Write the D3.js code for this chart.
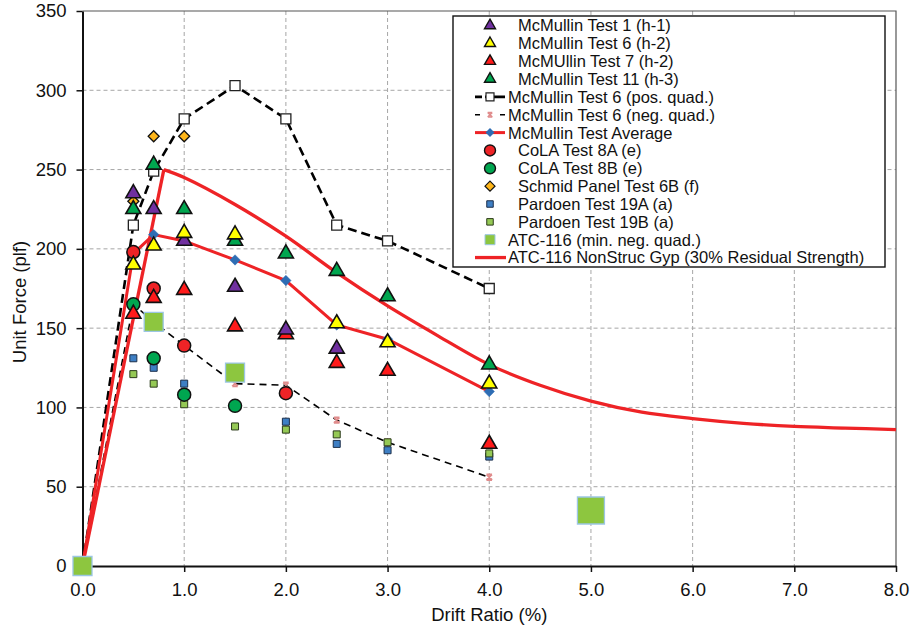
<!DOCTYPE html>
<html><head><meta charset="utf-8">
<script src="https://cdn.jsdelivr.net/npm/d3@7"></script>
<style>
html,body{margin:0;padding:0;background:#fff;}
svg{display:block;font-family:"Liberation Sans",Arial,sans-serif;}
</style></head>
<body>
<svg id="c" width="917" height="628"></svg>
<script>
// ---------- data ----------
const xTicks = [0,1,2,3,4,5,6,7,8];
const yTicks = [0,50,100,150,200,250,300,350];

const mcm1X = [0.5,0.7,1.0,1.5,2.0,2.5];
const mcm1Y = [235,225,205,176,149,137];
const mcm6X = [0.5,0.7,1.0,1.5,2.5,3.0,4.0];
const mcm6Y = [190,202,210,209,153,141,115];
const mcm7X = [0.5,0.7,1.0,1.5,2.0,2.5,3.0,4.0];
const mcm7Y = [159,169,174,151,146,128,123,77];
const mcm11X = [0.5,0.7,1.0,1.5,2.0,2.5,3.0,4.0];
const mcm11Y = [225,253,225,205,197,186,170,127];

const posX = [0,0.5,0.7,1.0,1.5,2.0,2.5,3.0,4.0];
const posY = [0,215,249,282,303,282,215,205,175];
const negX = [0,0.5,0.7,1.0,1.5,2.0,2.5,3.0,4.0];
const negY = [0,165,154,139,115,114,92,78,56];
const avgX = [0,0.5,0.7,1.0,1.5,2.0,2.5,3.0,4.0];
const avgY = [0,197,209,205,193,180,152,143,110];

const colaAX = [0.5,0.7,1.0,2.0];
const colaAY = [198,175,139,109];
const colaBX = [0.5,0.7,1.0,1.5];
const colaBY = [165,131,108,101];
const schmidX = [0.5,0.7,1.0];
const schmidY = [230,271,271];
const p19aX = [0.5,0.7,1.0,1.5,2.0,2.5,3.0,4.0];
const p19aY = [131,125,115,101,91,77,73,69];
const p19bX = [0.5,0.7,1.0,1.5,2.0,2.5,3.0,4.0];
const p19bY = [121,115,102,88,86,83,78,71];
const atcMinX = [0,0.7,1.5,5.0];
const atcMinY = [0,154,122,35];
const atcX = [0,0.8,1.0,1.5,2.0,2.5,3.0,3.5,4.0,4.5,5.0,5.5,6.0,6.5,7.0,7.5,8.0];
const atcY = [0,250,245,228,208,185,164,145,127,114,104,97,93,90,88,87,86];

const legendLabels = [
  "McMullin Test 1 (h-1)","McMullin Test 6 (h-2)","McMUllin Test 7 (h-2)","McMullin Test 11 (h-3)",
  "McMullin Test 6 (pos. quad.)","McMullin Test 6 (neg. quad.)","McMullin Test Average",
  "CoLA Test 8A (e)","CoLA Test 8B (e)","Schmid Panel Test 6B (f)",
  "Pardoen Test 19A (a)","Pardoen Test 19B (a)","ATC-116 (min. neg. quad.)",
  "ATC-116 NonStruc Gyp (30% Residual Strength)"
];
const xTitle = "Drift Ratio (%)";
const yTitle = "Unit Force (plf)";

// ---------- helpers ----------
const zip = (xs, ys) => xs.map((x,i)=>({x, y: ys[i]}));
const svg = d3.select("#c");
const L = 82.5, R = 896, T = 11, B = 566;
const x = d3.scaleLinear().domain([0,8]).range([L,R]);
const y = d3.scaleLinear().domain([0,350]).range([B,T]);

const RED = "#EE2326";

// grid
const g = svg.append("g");
g.selectAll(".hg").data(yTicks.filter(v=>v>0 && v<350)).join("line")
  .attr("x1",L).attr("x2",R).attr("y1",d=>y(d)).attr("y2",d=>y(d))
  .attr("stroke","#a6a6a6").attr("stroke-width",1).attr("stroke-dasharray","4,3");
g.selectAll(".vg").data(xTicks.filter(v=>v>0 && v<8)).join("line")
  .attr("y1",T).attr("y2",B).attr("x1",d=>x(d)).attr("x2",d=>x(d))
  .attr("stroke","#a6a6a6").attr("stroke-width",1).attr("stroke-dasharray","4,3");

// frame top/right
svg.append("path").attr("d",`M${L},${T}H${R}V${B}`).attr("fill","none")
  .attr("stroke","#555").attr("stroke-width",1.2);

// axes
const fontAxis = 18.5;
const xAxis = svg.append("g").attr("transform",`translate(0,${B})`)
  .call(d3.axisBottom(x).tickValues(xTicks).tickFormat(d3.format(".1f")).tickSize(6).tickSizeOuter(0).tickPadding(11));
const yAxis = svg.append("g").attr("transform",`translate(${L},0)`)
  .call(d3.axisLeft(y).tickValues(yTicks).tickFormat(d3.format("d")).tickSize(6).tickSizeOuter(0).tickPadding(10));
[xAxis,yAxis].forEach(a=>{
  a.select(".domain").attr("stroke","#111").attr("stroke-width",2);
  a.selectAll(".tick line").attr("stroke","#111").attr("stroke-width",1.5);
  a.selectAll("text").attr("font-size",fontAxis).attr("fill","#111")
    .attr("font-family","'Liberation Sans',Arial,sans-serif");
});
svg.append("text").attr("x",(L+R)/2).attr("y",621).attr("text-anchor","middle")
  .attr("font-size",fontAxis).attr("fill","#111").text(xTitle);
svg.append("text").attr("transform",`translate(26,302) rotate(-90)`).attr("text-anchor","middle")
  .attr("font-size",fontAxis).attr("fill","#111").text(yTitle);

// ---------- marker shapes ----------
function triPath(s){ const h=s*Math.sqrt(3)/2; return `M0,${-h*2/3}L${s/2},${h/3}L${-s/2},${h/3}Z`; }
function diaPath(r){ return `M0,${-r}L${r},0L0,${r}L${-r},0Z`; }
function sqPath(s){ return `M${-s/2},${-s/2}h${s}v${s}h${-s}Z`; }
function starPath(r){ return `M${-r},${-r}L${r},${r}M${-r},${r}L${r},${-r}M${-r},${-r}H${r}M${-r},${r}H${r}`; }

const line = d3.line().x(d=>x(d.x)).y(d=>y(d.y));
const smooth = d3.line().x(d=>x(d.x)).y(d=>y(d.y)).curve(d3.curveCatmullRom.alpha(0.5));
const plot = svg.append("g");

function drawPoints(data, pathStr, fill, stroke, sw){
  plot.append("g").selectAll("path").data(data).join("path")
    .attr("transform",d=>`translate(${x(d.x)},${y(d.y)})`)
    .attr("d",pathStr).attr("fill",fill).attr("stroke",stroke).attr("stroke-width",sw);
}

// lines
plot.append("path").datum(zip(posX,posY)).attr("d",line).attr("fill","none")
  .attr("stroke","#000").attr("stroke-width",2.6).attr("stroke-dasharray","9,5");
plot.append("path").datum(zip(negX,negY)).attr("d",line).attr("fill","none")
  .attr("stroke","#000").attr("stroke-width",1.6).attr("stroke-dasharray","7,5");
plot.append("path").datum(zip(avgX,avgY)).attr("d",line).attr("fill","none")
  .attr("stroke",RED).attr("stroke-width",3);
const atcPts = zip(atcX,atcY);
plot.append("path").datum(atcPts.slice(0,2)).attr("d",line).attr("fill","none")
  .attr("stroke",RED).attr("stroke-width",3.3);
plot.append("path").datum(atcPts.slice(1)).attr("d",smooth).attr("fill","none")
  .attr("stroke",RED).attr("stroke-width",3.3);

// line markers
drawPoints(zip(posX,posY).slice(1), sqPath(10), "#fff", "#222", 1.3);
drawPoints(zip(negX,negY).slice(1), starPath(2.8), "none", "#E08C8C", 1.8);
drawPoints(zip(avgX,avgY).slice(1), diaPath(5.2), "#2E6DB4", "#2E6DB4", 0.5);

// scatter markers
drawPoints(zip(p19aX,p19aY), sqPath(7), "#3E7FC4", "#1c2f4a", 1);
drawPoints(zip(p19bX,p19bY), sqPath(7), "#95C955", "#2a3a1a", 1);
drawPoints(zip(colaAX,colaAY), d3.symbol(d3.symbolCircle, Math.PI*6.5*6.5)(), "#EE2326", "#111", 1.5);
drawPoints(zip(colaBX,colaBY), d3.symbol(d3.symbolCircle, Math.PI*6.5*6.5)(), "#00A650", "#111", 1.5);
drawPoints(zip(schmidX,schmidY), diaPath(5.5), "#FFB619", "#111", 1.3);
drawPoints(zip(mcm7X,mcm7Y), triPath(15), "#FF1A1A", "#111", 1.6);
drawPoints(zip(mcm11X,mcm11Y), triPath(15), "#00A64F", "#111", 1.6);
drawPoints(zip(mcm1X,mcm1Y), triPath(15), "#7030A0", "#111", 1.6);
drawPoints(zip(mcm6X,mcm6Y), triPath(15), "#FFFF00", "#111", 1.6);

// big ATC squares
plot.append("g").selectAll("path").data(zip(atcMinX,atcMinY)).join("path")
  .attr("transform",d=>`translate(${x(d.x)},${y(d.y)})`)
  .attr("d",d=>sqPath(d.x>=5?27:19))
  .attr("fill","#8DC63F").attr("stroke","#9CC6E4").attr("stroke-width",1.3);

// ---------- legend ----------
const lg = svg.append("g");
lg.append("rect").attr("x",453).attr("y",16).attr("width",432).attr("height",251)
  .attr("fill","#fff").attr("stroke","#111").attr("stroke-width",1.4);
const rowY = i => 25.5 + i*17.85;
const mx = 490;
const legendDraw = [
  r=>r.append("path").attr("d",triPath(11)).attr("fill","#7030A0").attr("stroke","#111").attr("stroke-width",1.4),
  r=>r.append("path").attr("d",triPath(11)).attr("fill","#FFFF00").attr("stroke","#111").attr("stroke-width",1.4),
  r=>r.append("path").attr("d",triPath(11)).attr("fill","#FF1A1A").attr("stroke","#111").attr("stroke-width",1.4),
  r=>r.append("path").attr("d",triPath(11)).attr("fill","#00A64F").attr("stroke","#111").attr("stroke-width",1.4),
  r=>{ r.append("line").attr("x1",-15).attr("x2",15).attr("stroke","#000").attr("stroke-width",2.6).attr("stroke-dasharray","7,3,20");
       r.append("path").attr("d",sqPath(8)).attr("fill","#fff").attr("stroke","#222").attr("stroke-width",1.2); },
  r=>{ r.append("line").attr("x1",-15).attr("x2",15).attr("stroke","#000").attr("stroke-width",1.6).attr("stroke-dasharray","5,20");
       r.append("path").attr("d",starPath(2.3)).attr("fill","none").attr("stroke","#E08C8C").attr("stroke-width",1.6); },
  r=>{ r.append("line").attr("x1",-15).attr("x2",15).attr("stroke",RED).attr("stroke-width",3);
       r.append("path").attr("d",diaPath(4.5)).attr("fill","#2E6DB4"); },
  r=>r.append("circle").attr("r",5.5).attr("fill","#EE2326").attr("stroke","#111").attr("stroke-width",1.4),
  r=>r.append("circle").attr("r",5.5).attr("fill","#00A650").attr("stroke","#111").attr("stroke-width",1.4),
  r=>r.append("path").attr("d",diaPath(5)).attr("fill","#FFB619").attr("stroke","#111").attr("stroke-width",1.2),
  r=>r.append("path").attr("d",sqPath(6.5)).attr("fill","#3E7FC4").attr("stroke","#1c2f4a").attr("stroke-width",1),
  r=>r.append("path").attr("d",sqPath(6.5)).attr("fill","#95C955").attr("stroke","#2a3a1a").attr("stroke-width",1),
  r=>r.append("path").attr("d",sqPath(10)).attr("fill","#8DC63F").attr("stroke","#9CC6E4").attr("stroke-width",1),
  r=>r.append("line").attr("x1",-15).attr("x2",16).attr("stroke",RED).attr("stroke-width",3.3)
];
const lineRows = new Set([4,5,6,12,13]);
legendLabels.forEach((lab,i)=>{
  const r = lg.append("g").attr("transform",`translate(${mx},${rowY(i)})`);
  legendDraw[i](r);
  lg.append("text").attr("x", lineRows.has(i)?508:518).attr("y",rowY(i)).attr("dy","0.36em")
    .attr("font-size",16.5).attr("fill","#111").text(lab);
});
</script>
</body></html>
